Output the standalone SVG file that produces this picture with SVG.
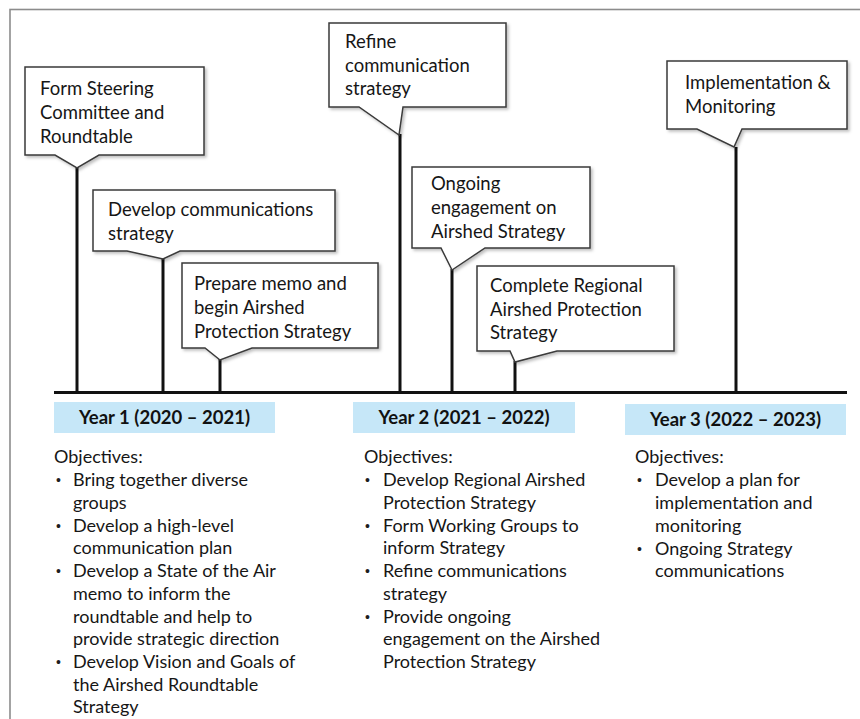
<svg xmlns="http://www.w3.org/2000/svg" width="860" height="719" viewBox="0 0 860 719">
<style>
.frame{fill:none;stroke:#8c8c8c;stroke-width:1.6}
.callout{fill:#fff;stroke:#3a3a3a;stroke-width:1.5;stroke-linejoin:miter;filter:url(#sh)}
.stem{stroke:#111;stroke-width:3;fill:none}
.axis{stroke:#111;stroke-width:3.2;fill:none}
.t{font-family:Lato,"Open Sans","Liberation Sans",sans-serif;font-size:18.5px;fill:#161616}
.o{font-family:Lato,"Open Sans","Liberation Sans",sans-serif;font-size:18px;fill:#161616}
.yr{fill:#c6e7f8}
.yt{font-family:Lato,"Open Sans","Liberation Sans",sans-serif;font-size:18.5px;font-weight:bold;fill:#111;text-anchor:middle}
.b{font-family:"Liberation Sans",sans-serif;font-size:14px;fill:#1e1e1e}
</style>
<defs>
<filter id="sh" x="-10%" y="-10%" width="125%" height="130%">
<feDropShadow dx="2" dy="2" stdDeviation="1.5" flood-color="#000" flood-opacity="0.25"/>
</filter>
</defs>
<rect class="frame" x="10" y="9.5" width="870" height="720"/>

<g id="connectors">
<line class="axis" x1="54" y1="392.5" x2="847" y2="392.5"/>
<line class="stem" x1="77" y1="167" x2="77" y2="392"/>
<line class="stem" x1="163" y1="258" x2="163" y2="392"/>
<line class="stem" x1="220" y1="359" x2="220" y2="392"/>
<line class="stem" x1="400" y1="134" x2="400" y2="392"/>
<line class="stem" x1="452" y1="269" x2="452" y2="392"/>
<line class="stem" x1="515" y1="361" x2="515" y2="392"/>
<line class="stem" x1="736" y1="147" x2="736" y2="392"/>
</g>

<g id="n1">
<path class="callout" d="M25,67 H204 V155 H99 L77,168 L55,155 H25 Z"/>
<text class="t" x="40" y="95">Form Steering</text>
<text class="t" x="40" y="119">Committee and</text>
<text class="t" x="40" y="143">Roundtable</text>
</g>

<g id="n2">
<path class="callout" d="M93,190 H335 V251 H180 L163,259 L127,251 H93 Z"/>
<text class="t" x="108" y="216">Develop communications</text>
<text class="t" x="108" y="240">strategy</text>
</g>

<g id="n3">
<path class="callout" d="M182,263 H378 V348 H252 L220,360 L205,348 H182 Z"/>
<text class="t" x="194" y="290">Prepare memo and</text>
<text class="t" x="194" y="314">begin Airshed</text>
<text class="t" x="194" y="338">Protection Strategy</text>
</g>

<g id="n4">
<path class="callout" d="M329,23 H506 V107 H403 L399,135 L359,107 H329 Z"/>
<text class="t" x="345" y="48">Refine</text>
<text class="t" x="345" y="72">communication</text>
<text class="t" x="345" y="95">strategy</text>
</g>

<g id="n5">
<path class="callout" d="M412,167 H590 V248 H485 L452,270 L441,248 H412 Z"/>
<text class="t" x="431" y="190">Ongoing</text>
<text class="t" x="431" y="214">engagement on</text>
<text class="t" x="431" y="238">Airshed Strategy</text>
</g>

<g id="n6">
<path class="callout" d="M477,266 H674 V351 H557 L515,362 L510,351 H477 Z"/>
<text class="t" x="490" y="292">Complete Regional</text>
<text class="t" x="490" y="316">Airshed Protection</text>
<text class="t" x="490" y="339">Strategy</text>
</g>

<g id="n7">
<path class="callout" d="M667,61 H847 V129 H742 L734,147 L697,129 H667 Z"/>
<text class="t" x="685" y="89">Implementation &amp;</text>
<text class="t" x="685" y="113">Monitoring</text>
</g>

<g id="year1">
<rect class="yr" x="54" y="402" width="221" height="31"/>
<text class="yt" x="164.5" y="424">Year 1 (2020 – 2021)</text>
<text class="o" x="54" y="463">Objectives:</text>
<text class="b" x="56" y="485">•</text>
<text class="o" x="73" y="486">Bring together diverse</text>
<text class="o" x="73" y="509">groups</text>
<text class="b" x="56" y="531">•</text>
<text class="o" x="73" y="532">Develop a high-level</text>
<text class="o" x="73" y="554">communication plan</text>
<text class="b" x="56" y="576">•</text>
<text class="o" x="73" y="577">Develop a State of the Air</text>
<text class="o" x="73" y="600">memo to inform the</text>
<text class="o" x="73" y="623">roundtable and help to</text>
<text class="o" x="73" y="645">provide strategic direction</text>
<text class="b" x="56" y="667">•</text>
<text class="o" x="73" y="668">Develop Vision and Goals of</text>
<text class="o" x="73" y="691">the Airshed Roundtable</text>
<text class="o" x="73" y="713">Strategy</text>
</g>

<g id="year2">
<rect class="yr" x="353" y="402" width="222" height="31"/>
<text class="yt" x="464" y="424">Year 2 (2021 – 2022)</text>
<text class="o" x="364" y="463">Objectives:</text>
<text class="b" x="365" y="485">•</text>
<text class="o" x="383" y="486">Develop Regional Airshed</text>
<text class="o" x="383" y="509">Protection Strategy</text>
<text class="b" x="365" y="531">•</text>
<text class="o" x="383" y="532">Form Working Groups to</text>
<text class="o" x="383" y="554">inform Strategy</text>
<text class="b" x="365" y="576">•</text>
<text class="o" x="383" y="577">Refine communications</text>
<text class="o" x="383" y="600">strategy</text>
<text class="b" x="365" y="622">•</text>
<text class="o" x="383" y="623">Provide ongoing</text>
<text class="o" x="383" y="645">engagement on the Airshed</text>
<text class="o" x="383" y="668">Protection Strategy</text>
</g>

<g id="year3">
<rect class="yr" x="625" y="404" width="221" height="31"/>
<text class="yt" x="735.5" y="426">Year 3 (2022 – 2023)</text>
<text class="o" x="635" y="463">Objectives:</text>
<text class="b" x="637" y="485">•</text>
<text class="o" x="655" y="486">Develop a plan for</text>
<text class="o" x="655" y="509">implementation and</text>
<text class="o" x="655" y="532">monitoring</text>
<text class="b" x="637" y="554">•</text>
<text class="o" x="655" y="555">Ongoing Strategy</text>
<text class="o" x="655" y="577">communications</text>
</g>
</svg>
